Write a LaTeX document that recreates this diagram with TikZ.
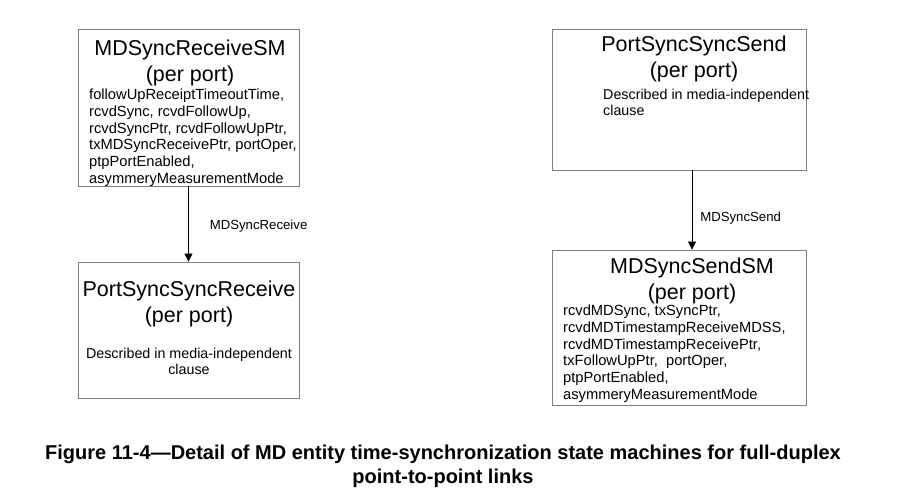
\documentclass[tikz,border=0pt]{standalone}
\usepackage{fontspec}
\setmainfont{Liberation Sans}
\usetikzlibrary{arrows.meta}

\begin{document}
\begin{tikzpicture}[x=1pt, y=-1pt,
    smbox/.style={draw=black!50, line width=0.8pt, minimum width=#1, inner sep=0pt},
    smtitle/.style={inner sep=0pt, anchor=north, align=center, font=\fontsize{21.5}{25.5}\selectfont},
    smbody/.style={inner sep=0pt, align=left, font=\fontsize{14.7}{16.7}\selectfont},
    smnote/.style={inner sep=0pt, align=left, font=\fontsize{14.3}{16.4}\selectfont},
    flow/.style={-{Triangle[width=8pt,length=8pt]}, line width=0.6pt},
    flowlabel/.style={font=\fontsize{13.2}{15}\selectfont, inner sep=0pt}]
  \useasboundingbox (0,0) rectangle (906,498);

  % left column: receive direction
  \node[smbox=221pt, minimum height=157pt] (rsm) at (188.5,107.5) {};
  \node[smtitle] (rsmtitle) at (190,40) {MDSyncReceiveSM\\(per port)};
  \node[smbody, anchor=north west] (rsmvars) at (89,89)
    {followUpReceiptTimeoutTime,\\rcvdSync, rcvdFollowUp,\\rcvdSyncPtr, rcvdFollowUpPtr,\\txMDSyncReceivePtr, portOper,\\ptpPortEnabled,\\asymmeryMeasurementMode};

  \node[smbox=221pt, minimum height=136pt] (psr) at (188.5,330) {};
  \node[smtitle] (psrtitle) at (189,281) {PortSyncSyncReceive\\(per port)};
  \node[smnote, anchor=north, align=center] (psrtext) at (189,348)
    {Described in media-independent\\clause};

  \draw[flow] (rsm) -- (psr) node[flowlabel, pos=0.53, right=21pt] {MDSyncReceive};

  % right column: send direction
  \node[smbox=254pt, minimum height=141pt] (pss) at (679,99.5) {};
  \node[smtitle] (psstitle) at (694,36) {PortSyncSyncSend\\(per port)};
  \node[smnote, anchor=north west] (psstext) at (603,89)
    {Described in media-independent\\clause};

  \node[smbox=254pt, minimum height=155pt] (ssm) at (679,327.5) {};
  \node[smtitle] (ssmtitle) at (692,258) {MDSyncSendSM\\(per port)};
  \node[smbody, anchor=north west] (ssmvars) at (563,305)
    {rcvdMDSync, txSyncPtr,\\rcvdMDTimestampReceiveMDSS,\\rcvdMDTimestampReceivePtr,\\txFollowUpPtr,~ portOper,\\ptpPortEnabled,\\asymmeryMeasurementMode};

  \draw[flow] ([xshift=13pt]pss.south) -- ([xshift=13pt]ssm.north)
    node[flowlabel, pos=0.6, right=8pt] {MDSyncSend};

  % caption
  \node[align=center, inner sep=0pt, font=\bfseries\fontsize{20}{24}\selectfont] (caption) at (443,466)
    {Figure 11-4---Detail of MD entity time-synchronization state machines for full-duplex\\point-to-point links};
\end{tikzpicture}
\end{document}
